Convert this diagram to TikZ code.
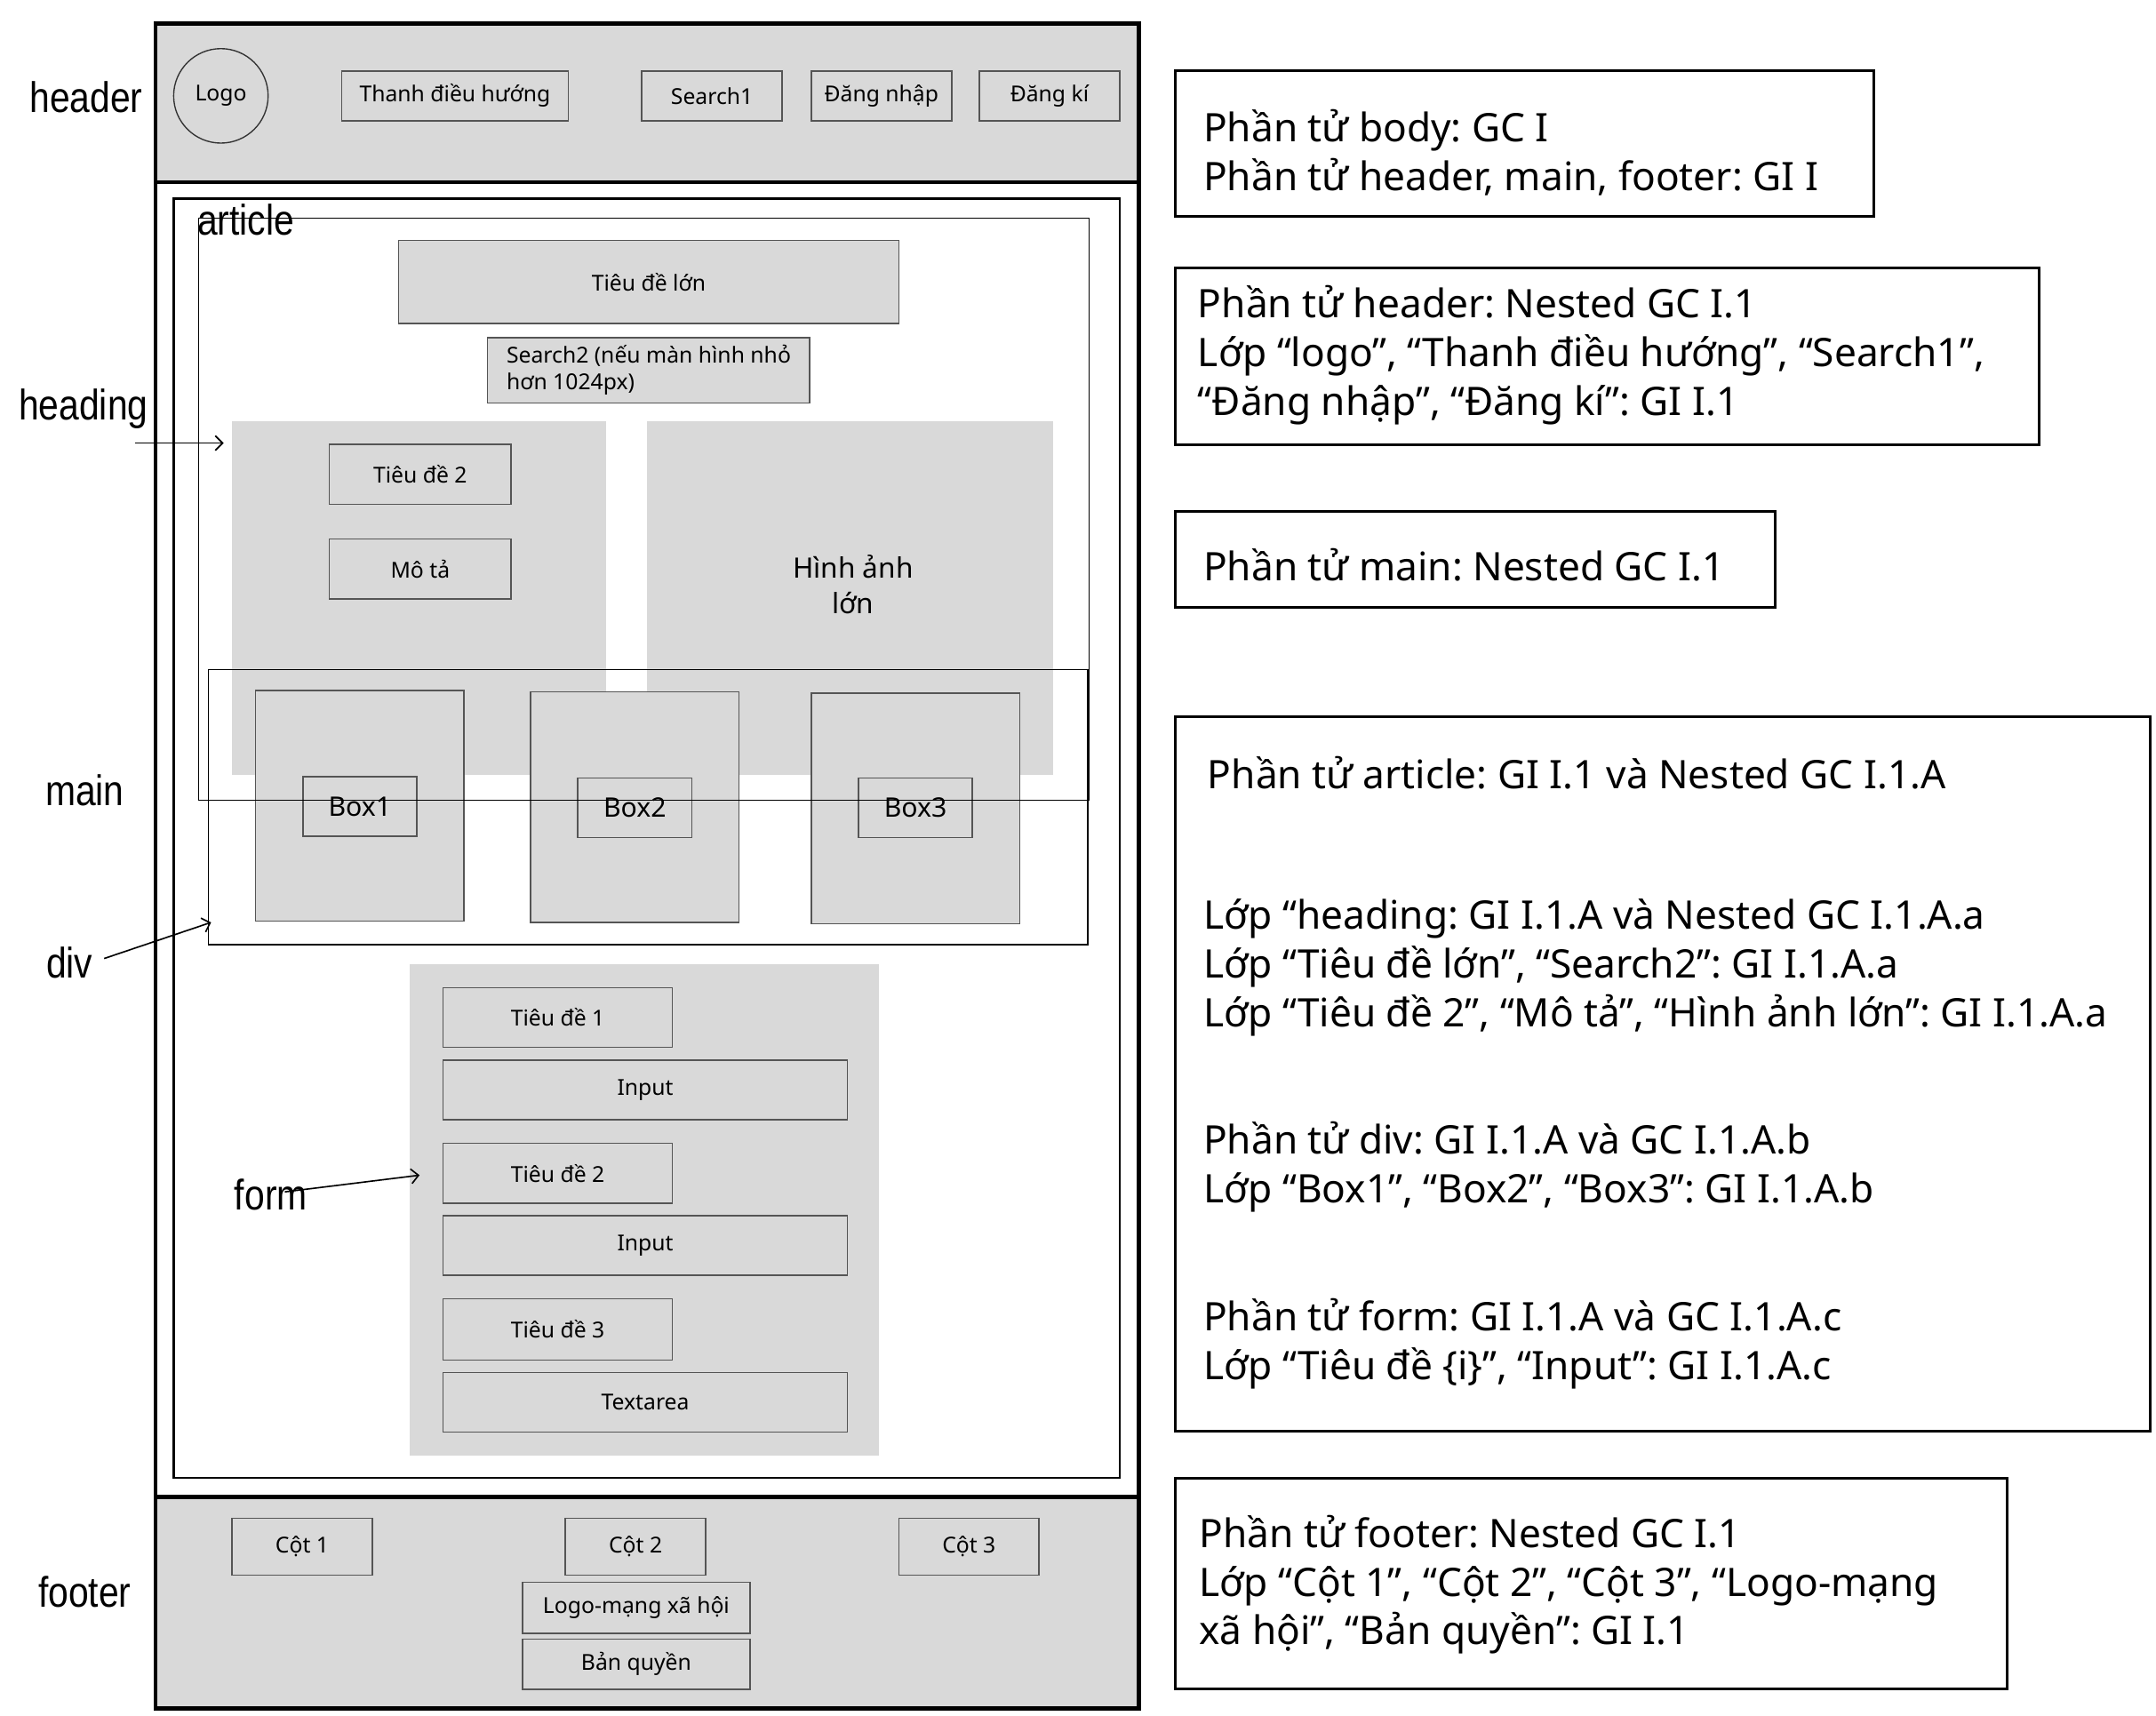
\documentclass[tikz,border=0pt]{standalone}
\usepackage{fontspec}
\setmainfont{Noto Sans}
\newfontfamily\lblfont{Liberation Sans}
\usetikzlibrary{arrows.meta}
\definecolor{wgray}{HTML}{D9D9D9}
\definecolor{wline}{HTML}{555555}
\frenchspacing
\tikzset{
 gbox/.style={draw=wline, fill=wgray, line width=0.6pt, inner sep=0pt, font=\fontsize{9}{11}\selectfont, align=center},
 gblock/.style={fill=wgray, draw=none, inner sep=0pt},
 frame/.style={draw=black, line width=0.5pt, inner sep=0pt},
 note/.style={draw=black, line width=1.1pt, inner sep=0pt},
 ntext/.style={anchor=base west, inner sep=0pt, font=\fontsize{16.1}{19}\selectfont},
 lbl/.style={inner sep=0pt, font=\lblfont\fontsize{17.5}{20}\selectfont},
 arr/.style={-{Straight Barb[length=3pt,width=6pt]}, line width=0.6pt},
}
\newcommand\R[7][]{\node[#1,minimum width={(#5-#3)*0.02cm},minimum height={(#6-#4)*0.02cm}] (#2) at ({(#3+#5)/2},{(#4+#6)/2}) {#7};}
\newcommand\TL[4]{\node[ntext] (#1) at (#2,{#3+10}) {#4};}
\newcommand\LB[4]{\node[lbl] (#1) at (#2,#3) {\scalebox{0.85}[1]{#4}};}
\begin{document}
\begin{tikzpicture}[x=0.02cm,y=-0.02cm]
\useasboundingbox[fill=white] (0,0) rectangle (1552,1235);
% ---------- page skeleton ----------
\R[gblock]{header}{112}{17}{820}{131}{}
\R[gblock]{footer}{112}{1078}{820}{1230}{}
\R[frame,line width=1.7pt]{body}{112}{17}{820}{1230}{}
\draw[line width=1.5pt] (header.south west) -- (header.south east);
\draw[line width=1.5pt] (footer.north west) -- (footer.north east);
\R[frame,line width=0.9pt]{article}{125}{143}{806}{1064}{}
% ---------- header ----------
\node[circle, draw=black!80, line width=0.5pt, minimum size={68*0.02cm}, inner sep=0pt, font=\fontsize{9}{11}\selectfont] (logo) at (159,69) {Logo};
\R[gbox]{nav}{246}{51}{409}{87}{Thanh điều hướng}
\R[gbox]{search1}{462}{51}{563}{87}{Search1}
\R[gbox]{login}{584}{51}{685}{87}{Đăng nhập}
\R[gbox]{signup}{705}{51}{806}{87}{Đăng kí}
% ---------- heading ----------
\R[gbox]{bigtitle}{287}{173}{647}{233}{Tiêu đề lớn}
\R[gbox,align=left]{search2}{351}{243}{583}{290}{Search2 (nếu màn hình nhỏ\\hơn 1024px)}
\R[gblock]{leftblk}{167}{303}{436}{558}{}
\R[gblock]{image}{466}{303}{758}{558}{}
\node[inner sep=0pt, align=center, font=\fontsize{11.5}{14.5}\selectfont] (imgtxt) at (614,421) {Hình ảnh\\lớn};
\R[gbox]{title2}{237}{320}{368}{363}{Tiêu đề 2}
\R[gbox]{desc}{237}{388}{368}{431}{Mô tả}
% ---------- div ----------
\R[gbox]{box1o}{184}{497}{334}{663}{}
\R[gbox]{box2o}{382}{498}{532}{664}{}
\R[gbox]{box3o}{584}{499}{734}{665}{}
\R[gbox,font=\fontsize{11}{13}\selectfont]{box1}{218}{559}{300}{602}{Box1}
\R[gbox,font=\fontsize{11}{13}\selectfont]{box2}{416}{560}{498}{603}{Box2}
\R[gbox,font=\fontsize{11}{13}\selectfont]{box3}{618}{560}{700}{603}{Box3}
\R[frame]{heading}{143}{157}{784}{576}{}
\R[frame]{div}{150}{482}{783}{680}{}
% ---------- form ----------
\R[gblock]{form}{295}{694}{633}{1048}{}
\R[gbox]{ft1}{319}{711}{484}{754}{Tiêu đề 1}
\R[gbox]{fi1}{319}{763}{610}{806}{Input}
\R[gbox]{ft2}{319}{823}{484}{866}{Tiêu đề 2}
\R[gbox]{fi2}{319}{875}{610}{918}{Input}
\R[gbox]{ft3}{319}{935}{484}{979}{Tiêu đề 3}
\R[gbox]{fta}{319}{988}{610}{1031}{Textarea}
% ---------- footer ----------
\R[gbox]{col1}{167}{1093}{268}{1134}{Cột 1}
\R[gbox]{col2}{407}{1093}{508}{1134}{Cột 2}
\R[gbox]{col3}{647}{1093}{748}{1134}{Cột 3}
\R[gbox]{social}{376}{1139}{540}{1176}{Logo-mạng xã hội}
\R[gbox]{copy}{376}{1180}{540}{1216}{Bản quyền}
% ---------- left labels ----------
\LB{lheader}{62}{70}{header}
\LB{lheading}{60}{294}{heading}
\LB{lmain}{61}{569}{main}
\LB{ldiv}{50}{693}{div}
\LB{lfooter}{61}{1146}{footer}
\LB{lform}{195}{860}{form}
\LB{larticle}{177}{158}{article}
\coordinate (hdS) at (97,319); \coordinate (hdE) at (161,319);
\draw[arr] (hdS) -- (hdE);
\coordinate (dvS) at (75,690); \coordinate (dvE) at (152,664);
\draw[arr] (dvS) -- (dvE);
\coordinate (fmS) at (205,858); \coordinate (fmE) at (302,846);
\draw[arr] (fmS) -- (fmE);
% ---------- notes ----------
\R[note]{nA}{846}{51}{1349}{156}{}
\TL{a1}{866}{92}{Phần tử body: GC I}
\TL{a2}{866}{127}{Phần tử header, main, footer: GI I}
\R[note]{nB}{846}{193}{1468}{320}{}
\TL{b1}{862}{219}{Phần tử header: Nested GC I.1}
\TL{b2}{862}{254}{Lớp “logo”, “Thanh điều hướng”, “Search1”,}
\TL{b3}{862}{289}{“Đăng nhập”, “Đăng kí”: GI I.1}
\R[note]{nC}{846}{368}{1278}{437}{}
\TL{c1}{866}{408}{Phần tử main: Nested GC I.1}
\R[note]{nD}{846}{516}{1548}{1030}{}
\TL{d1}{869}{558}{Phần tử article: GI I.1 và Nested GC I.1.A}
\TL{d2}{866}{659}{Lớp “heading: GI I.1.A và Nested GC I.1.A.a}
\TL{d3}{866}{694}{Lớp “Tiêu đề lớn”, “Search2”: GI I.1.A.a}
\TL{d4}{866}{729}{Lớp “Tiêu đề 2”, “Mô tả”, “Hình ảnh lớn”: GI I.1.A.a}
\TL{d5}{866}{821}{Phần tử div: GI I.1.A và GC I.1.A.b}
\TL{d6}{866}{856}{Lớp “Box1”, “Box2”, “Box3”: GI I.1.A.b}
\TL{d7}{866}{948}{Phần tử form: GI I.1.A và GC I.1.A.c}
\TL{d8}{866}{983}{Lớp “Tiêu đề \{i\}”, “Input”: GI I.1.A.c}
\R[note]{nE}{846}{1064}{1445}{1216}{}
\TL{e1}{863}{1104}{Phần tử footer: Nested GC I.1}
\TL{e2}{863}{1139}{Lớp “Cột 1”, “Cột 2”, “Cột 3”, “Logo-mạng}
\TL{e3}{863}{1174}{xã hội”, “Bản quyền”: GI I.1}
\end{tikzpicture}
\end{document}
